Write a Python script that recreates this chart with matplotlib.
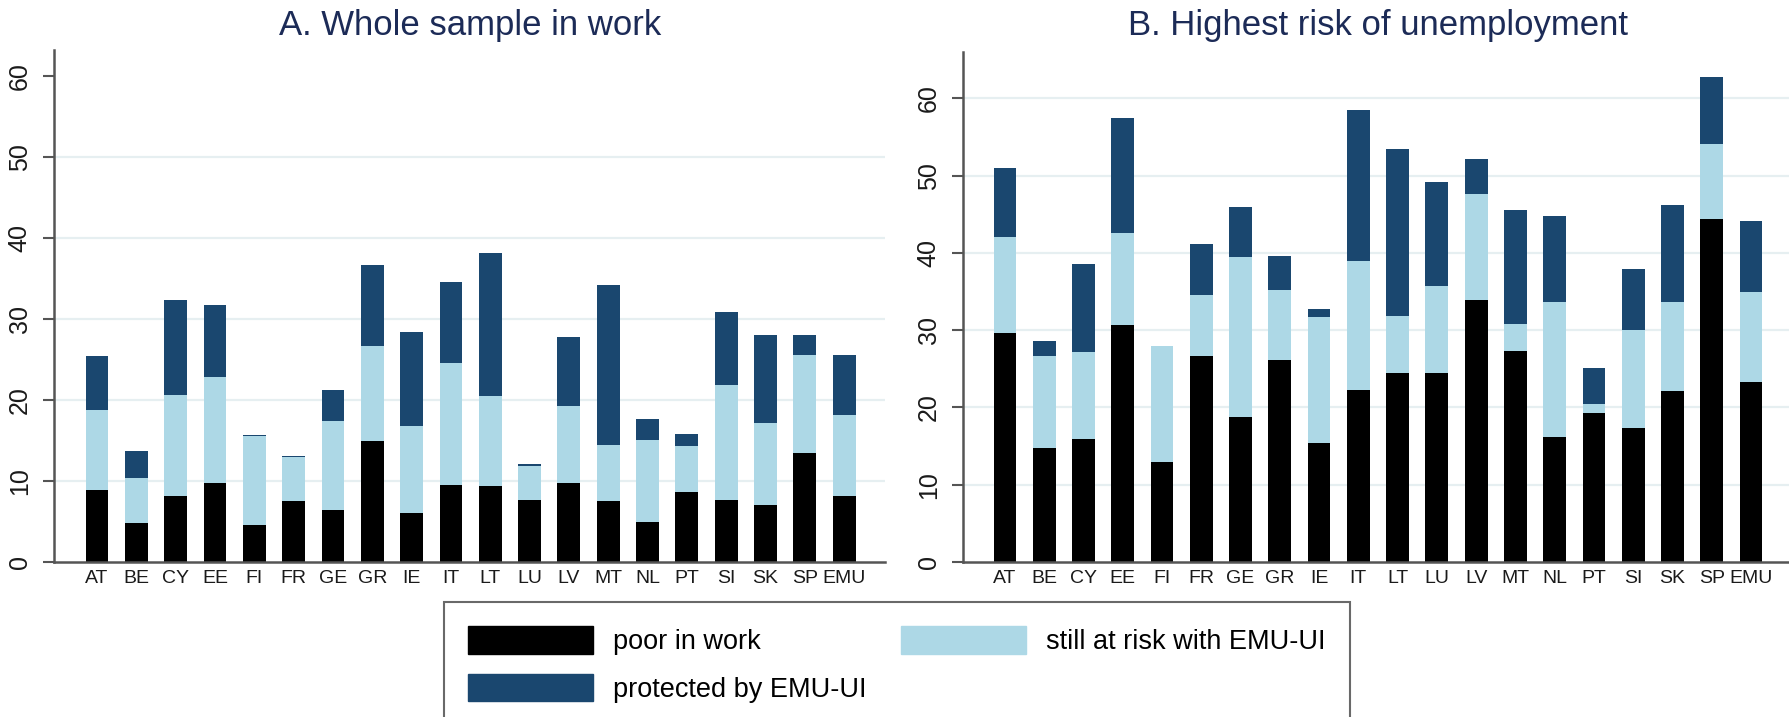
import numpy as np
import matplotlib
matplotlib.use("Agg")
import matplotlib.pyplot as plt
from matplotlib.patches import Patch

plt.rcParams['font.family'] = ['Liberation Sans', 'DejaVu Sans']

# Countries on the x-axis
countries = ['AT', 'BE', 'CY', 'EE', 'FI', 'FR', 'GE', 'GR', 'IE', 'IT',
             'LT', 'LU', 'LV', 'MT', 'NL', 'PT', 'SI', 'SK', 'SP', 'EMU']

# Panel A: whole sample in work (cumulative tops of each stacked segment)
a_poor = [8.9, 4.8, 8.2, 9.8, 4.6, 7.5, 6.4, 14.9, 6.0, 9.5,
          9.4, 7.7, 9.7, 7.5, 4.9, 8.7, 7.7, 7.0, 13.5, 8.2]
a_risk_top = [18.8, 10.4, 20.6, 22.8, 15.6, 13.0, 17.4, 26.7, 16.8, 24.6,
              20.5, 11.8, 19.3, 14.4, 15.0, 14.3, 21.8, 17.2, 25.5, 18.2]
a_prot_top = [25.4, 13.7, 32.3, 31.7, 15.7, 13.1, 21.2, 36.6, 28.4, 34.6,
              38.2, 12.1, 27.8, 34.2, 17.7, 15.8, 30.8, 28.0, 28.0, 25.5]

# Panel B: highest risk of unemployment (cumulative tops)
b_poor = [29.6, 14.7, 15.9, 30.7, 13.0, 26.7, 18.8, 26.1, 15.4, 22.3,
          24.5, 24.5, 33.9, 27.3, 16.2, 19.3, 17.3, 22.1, 44.4, 23.3]
b_risk_top = [42.1, 26.6, 27.2, 42.6, 27.9, 34.6, 39.5, 35.2, 31.7, 38.9,
              31.8, 35.7, 47.6, 30.8, 33.6, 20.5, 30.0, 33.7, 54.1, 34.9]
b_prot_top = [51.0, 28.6, 38.5, 57.5, 28.0, 41.1, 45.9, 39.6, 32.7, 58.5,
              53.5, 49.2, 52.1, 45.6, 44.8, 25.1, 37.9, 46.2, 62.7, 44.1]

labels = ['poor in work', 'still at risk with EMU-UI', 'protected by EMU-UI']
c_poor = '#000000'
c_risk = '#add8e6'
c_prot = '#1a476f'
title_color = '#1c2b57'
grid_color = '#e6eff1'

fig = plt.figure(figsize=(17.89, 7.17), dpi=100)

# Axes placed by hand to follow the reference layout
ax1 = fig.add_axes([0.0302, 0.2162, 0.4645, 0.7141])
ax2 = fig.add_axes([0.5383, 0.2162, 0.4617, 0.7113])


def draw_panel(ax, poor, risk_top, prot_top, ytop, xlim, grid_vals):
    x = np.arange(len(countries))
    poor = np.array(poor)
    risk_top = np.array(risk_top)
    prot_top = np.array(prot_top)
    w = 0.58
    # Horizontal gridlines
    for g in grid_vals:
        ax.axhline(g, color=grid_color, lw=1.6, zorder=0)
    # Stacked bars
    ax.bar(x, poor, width=w, color=c_poor, zorder=2)
    ax.bar(x, risk_top - poor, bottom=poor, width=w, color=c_risk, zorder=2)
    ax.bar(x, prot_top - risk_top, bottom=risk_top, width=w, color=c_prot, zorder=2)

    ax.set_xlim(*xlim)
    ax.set_ylim(0, ytop)
    ax.set_xticks(x)
    ax.set_xticklabels(countries, fontsize=14, color='#1a1a1a')
    ax.tick_params(axis='x', length=0, pad=6)
    ax.set_yticks([0, 10, 20, 30, 40, 50, 60])
    ax.set_yticklabels(['0', '10', '20', '30', '40', '50', '60'],
                       rotation=90, va='center', fontsize=18, color='#1a1a1a')
    ax.tick_params(axis='y', length=8, width=1.5, color='#555555', pad=8)
    for side in ['top', 'right']:
        ax.spines[side].set_visible(False)
    for side in ['left', 'bottom']:
        ax.spines[side].set_color('#555555')
        ax.spines[side].set_linewidth(1.8)


draw_panel(ax1, a_poor, a_risk_top, a_prot_top, 63.2, (-1.094, 20.04),
           [10, 20, 30, 40, 50])
draw_panel(ax2, b_poor, b_risk_top, b_prot_top, 66.0, (-1.07, 19.97),
           [10, 20, 30, 40, 50, 60])

# Panel titles
fig.text(470 / 1789, 1 - 25 / 717, 'A. Whole sample in work',
         ha='center', va='center', fontsize=25, color=title_color)
fig.text(1378 / 1789, 1 - 25 / 717, 'B. Highest risk of unemployment',
         ha='center', va='center', fontsize=25, color=title_color)

# Legend (column-wise fill: poor, protected | still at risk)
handles = [Patch(facecolor=c_poor, edgecolor=c_poor, label=labels[0]),
           Patch(facecolor=c_prot, edgecolor=c_prot, label=labels[2]),
           Patch(facecolor=c_risk, edgecolor=c_risk, label=labels[1])]
leg = fig.legend(handles=handles, ncol=2, loc='upper left',
                 bbox_to_anchor=(444 / 1789, 1 - 609 / 717, 906 / 1789, 0.01),
                 mode='expand', fontsize=19.5, frameon=True, fancybox=False,
                 handlelength=4.6, handleheight=1.2, handletextpad=0.75,
                 labelspacing=0.68, borderpad=0.9, borderaxespad=0,
                 columnspacing=1.6)
leg.get_frame().set_edgecolor('#444444')
leg.get_frame().set_linewidth(1.5)

plt.savefig('out.png', dpi=100)
